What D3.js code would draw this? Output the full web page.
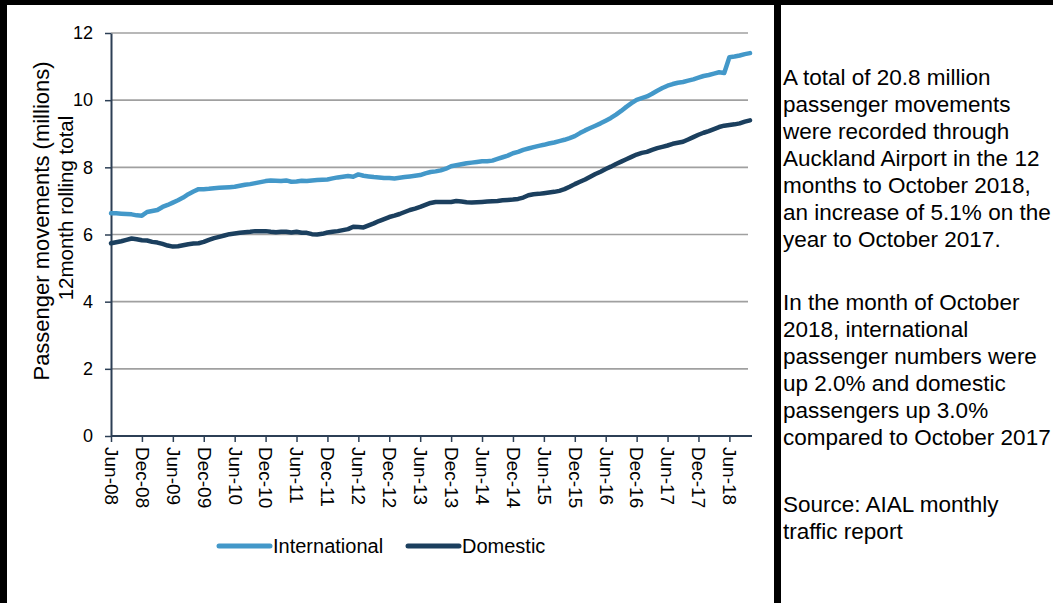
<!DOCTYPE html>
<html>
<head>
<meta charset="utf-8">
<script src="https://cdn.jsdelivr.net/npm/d3@7"></script>
<style>
  body { margin: 0; background: #fff; }
  svg { display: block; font-family: "Liberation Sans", Arial, sans-serif; }
</style>
</head>
<body>
<div id="chart"></div>
<script>
// monthly 12-month rolling totals, Jun-08 .. Oct-18 (millions)
const startMonth = new Date(2008, 5, 1);

const international = [
  6.63, 6.63, 6.62, 6.61, 6.60, 6.57, 6.56, 6.67, 6.70, 6.73, 6.82, 6.88,
  6.95, 7.02, 7.10, 7.20, 7.28, 7.35, 7.35, 7.36, 7.38, 7.39, 7.40, 7.41,
  7.42, 7.45, 7.48, 7.50, 7.53, 7.56, 7.59, 7.61, 7.60, 7.59, 7.61, 7.57,
  7.58, 7.60, 7.59, 7.61, 7.62, 7.63, 7.64, 7.67, 7.70, 7.72, 7.74, 7.72,
  7.79, 7.75, 7.73, 7.71, 7.70, 7.68, 7.68, 7.67, 7.69, 7.71, 7.73, 7.75,
  7.77, 7.82, 7.86, 7.88, 7.91, 7.96, 8.03, 8.06, 8.09, 8.12, 8.14, 8.16,
  8.18, 8.18, 8.20, 8.25, 8.30, 8.35, 8.42, 8.46, 8.52, 8.56, 8.60, 8.64,
  8.67, 8.71, 8.74, 8.78, 8.82, 8.87, 8.93, 9.02, 9.10, 9.17, 9.24, 9.31,
  9.39, 9.47, 9.57, 9.68, 9.80, 9.91, 10.01, 10.06, 10.11, 10.19, 10.28, 10.36,
  10.43, 10.48, 10.52, 10.54, 10.58, 10.62, 10.67, 10.72, 10.75, 10.79, 10.83, 10.81,
  11.28, 11.30, 11.33, 11.37, 11.40
];

const domestic = [
  5.74, 5.77, 5.80, 5.84, 5.88, 5.86, 5.83, 5.82, 5.78, 5.76, 5.72, 5.67,
  5.64, 5.65, 5.68, 5.71, 5.73, 5.74, 5.78, 5.84, 5.89, 5.93, 5.97, 6.01,
  6.03, 6.05, 6.07, 6.08, 6.10, 6.10, 6.10, 6.08, 6.07, 6.08, 6.08, 6.06,
  6.08, 6.05, 6.05, 6.01, 6.00, 6.02, 6.06, 6.08, 6.10, 6.13, 6.16, 6.23,
  6.22, 6.21, 6.27, 6.33, 6.40, 6.46, 6.52, 6.56, 6.61, 6.67, 6.73, 6.77,
  6.82, 6.88, 6.94, 6.97, 6.97, 6.97, 6.97, 7.00, 6.98, 6.96, 6.95, 6.96,
  6.97, 6.98, 6.99, 7.00, 7.02, 7.03, 7.04, 7.06, 7.10, 7.17, 7.20, 7.21,
  7.23, 7.25, 7.27, 7.30, 7.35, 7.42, 7.50, 7.57, 7.64, 7.72, 7.80, 7.87,
  7.95, 8.02, 8.10, 8.17, 8.24, 8.31, 8.38, 8.43, 8.46, 8.52, 8.57, 8.61,
  8.65, 8.70, 8.73, 8.76, 8.83, 8.90, 8.97, 9.03, 9.08, 9.14, 9.20, 9.24,
  9.26, 9.28, 9.31, 9.36, 9.40
];

const yTicks = [0, 2, 4, 6, 8, 10, 12];
const yTitle = ["Passenger movements (millions)", "12month rolling total"];

const notes = [
  ["A total of 20.8 million", "passenger movements", "were recorded through",
   "Auckland Airport in the 12", "months to October 2018,",
   "an increase of 5.1% on the", "year to October 2017."],
  ["In the month of October", "2018, international", "passenger numbers were",
   "up 2.0% and domestic", "passengers up 3.0%", "compared to October 2017"],
  ["Source: AIAL monthly", "traffic report"]
];

const series = [
  { name: "International", values: international, color: "#4398c9" },
  { name: "Domestic", values: domestic, color: "#1b3f5e" }
];

const W = 1053, H = 603;
const plot = { left: 111, right: 750, top: 33, bottom: 436 };
const axisColor = "#2c3f55";

const svg = d3.select("#chart").append("svg")
  .attr("width", W)
  .attr("height", H);

// frame
svg.append("rect").attr("x", 0).attr("y", 0).attr("width", W).attr("height", 5).attr("fill", "#000");
svg.append("rect").attr("x", 0).attr("y", 0).attr("width", 7).attr("height", H).attr("fill", "#000");
svg.append("rect").attr("x", 774).attr("y", 0).attr("width", 7).attr("height", H).attr("fill", "#000");

const n = international.length;
const xScale = d3.scaleLinear().domain([0, n - 1]).range([plot.left, plot.right]);
const yScale = d3.scaleLinear().domain([0, 12]).range([plot.bottom, plot.top]);

const monthFmt = d3.timeFormat("%b-%y");
const tickIdx = d3.range(0, n, 6);

// gridlines
svg.append("g")
  .selectAll("line")
  .data(yTicks.filter(d => d > 0))
  .join("line")
  .attr("x1", plot.left)
  .attr("x2", plot.right - 2)
  .attr("y1", d => yScale(d))
  .attr("y2", d => yScale(d))
  .attr("stroke", "#a0a0a0")
  .attr("stroke-width", 1.6);

// y axis
const yAxisG = svg.append("g")
  .attr("transform", `translate(${plot.left},0)`)
  .call(d3.axisLeft(yScale).tickValues(yTicks).tickSize(6).tickPadding(12).tickSizeOuter(0));
yAxisG.select(".domain").attr("stroke", axisColor).attr("stroke-width", 2);
yAxisG.selectAll(".tick line").attr("stroke", axisColor).attr("stroke-width", 1.5);
yAxisG.selectAll(".tick text")
  .style("font-size", "18px")
  .attr("fill", "#000");

// lines
const line = d3.line()
  .x((d, i) => xScale(i))
  .y(d => yScale(d));

svg.append("g")
  .selectAll("path")
  .data(series)
  .join("path")
  .attr("d", d => line(d.values))
  .attr("fill", "none")
  .attr("stroke", d => d.color)
  .attr("stroke-width", 4.5)
  .attr("stroke-linejoin", "round")
  .attr("stroke-linecap", "round");

// x axis
const xAxisG = svg.append("g")
  .attr("transform", `translate(0,${plot.bottom})`)
  .call(d3.axisBottom(xScale)
    .tickValues(tickIdx)
    .tickFormat(i => monthFmt(d3.timeMonth.offset(startMonth, i)))
    .tickSize(6)
    .tickSizeOuter(0));
xAxisG.select(".domain")
  .attr("d", `M${plot.left},0H${plot.right + 2}`)
  .attr("stroke", axisColor)
  .attr("stroke-width", 2);
xAxisG.selectAll(".tick line").attr("stroke", axisColor).attr("stroke-width", 1.5);
xAxisG.selectAll(".tick text")
  .style("font-size", "19px")
  .attr("fill", "#000")
  .attr("text-anchor", "start")
  .attr("transform", "rotate(90)")
  .attr("x", 11)
  .attr("y", 0)
  .attr("dy", "0.35em");

// y axis title
const titlePos = [{ x: 49, y: 221, size: 22 }, { x: 73, y: 208, size: 20.5 }];
svg.append("g")
  .selectAll("text")
  .data(yTitle)
  .join("text")
  .attr("transform", (d, i) => `translate(${titlePos[i].x},${titlePos[i].y}) rotate(-90)`)
  .attr("text-anchor", "middle")
  .style("font-size", (d, i) => titlePos[i].size + "px")
  .attr("fill", "#000")
  .text(d => d);

// legend
const legendItems = [
  { s: series[0], x: 219 },
  { s: series[1], x: 408 }
];
const legend = svg.append("g").attr("transform", "translate(0,546)");
legendItems.forEach(({ s, x }) => {
  legend.append("line")
    .attr("x1", x).attr("x2", x + 51)
    .attr("y1", 0).attr("y2", 0)
    .attr("stroke", s.color)
    .attr("stroke-width", 5)
    .attr("stroke-linecap", "round");
  legend.append("text")
    .attr("x", x + 54)
    .attr("y", 7)
    .style("font-size", "20px")
    .attr("fill", "#000")
    .text(s.name);
});

// side notes
const noteStarts = [85, 310, 512];
const notesG = svg.append("g").style("font-size", "22.5px").attr("fill", "#000");
notes.forEach((para, p) => {
  para.forEach((txt, j) => {
    notesG.append("text")
      .attr("x", 783)
      .attr("y", noteStarts[p] + j * 27)
      .text(txt);
  });
});
</script>
</body>
</html>
